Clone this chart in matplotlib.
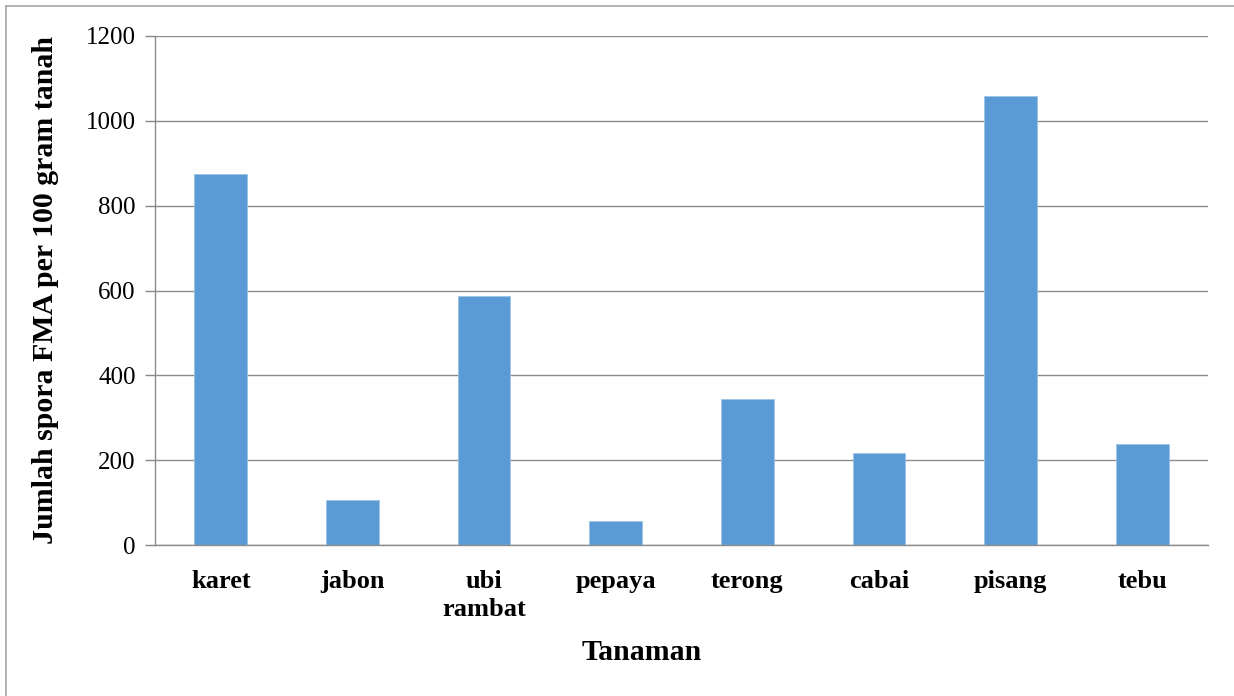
import matplotlib
matplotlib.use("Agg")
import matplotlib.pyplot as plt
from matplotlib.lines import Line2D

categories = ["karet", "jabon", "ubi\nrambat", "pepaya", "terong", "cabai", "pisang", "tebu"]
values = [875, 106, 586, 56, 344, 218, 1058, 238]
yticks = [0, 200, 400, 600, 800, 1000, 1200]

plt.rcParams['font.family'] = ['Liberation Serif', 'DejaVu Serif']

fig = plt.figure(figsize=(12.34, 6.96), dpi=100)
ax = fig.add_axes([155/1234, 1 - 545/696, (1208-155)/1234, (545-36)/696])

x = range(len(categories))
ax.bar(x, values, width=0.4, color="#5b9bd5", edgecolor="#9dc3e6", linewidth=0.6, zorder=3)
ax.set_xlim(-0.5, len(categories) - 0.5)
ax.set_ylim(0, 1200)
ax.set_yticks(yticks)
ax.set_yticklabels([str(v) for v in yticks], fontsize=18)
ax.set_xticks(list(x))
ax.set_xticklabels(categories, fontsize=19, fontweight="bold", linespacing=1.25, va="top")
ax.tick_params(axis="x", length=0, pad=18)
ax.tick_params(axis="y", length=7, color="#888888", width=1, pad=7, direction="out")
ax.grid(axis="y", color="#8c8c8c", linewidth=1, zorder=0)
for s in ["top", "right", "bottom"]:
    ax.spines[s].set_visible(False)
ax.spines["left"].set_color("#8c8c8c")
ax.spines["left"].set_linewidth(1)
ax.axhline(0, color="#8c8c8c", linewidth=1, zorder=4, clip_on=False)

ax.set_ylabel("Jumlah spora FMA per 100 gram tanah", fontsize=21.5, fontweight="bold", labelpad=19)
ax.set_xlabel("Tanaman", fontsize=21.5, fontweight="bold", labelpad=11)
ax.xaxis.set_label_coords(0.4625, -0.185)

fig.lines.append(Line2D([5.5/1234, 5.5/1234], [0, 1 - 6/696], transform=fig.transFigure,
                        color="#a6a6a6", linewidth=1.2))
fig.lines.append(Line2D([5.5/1234, 1], [1 - 6/696, 1 - 6/696], transform=fig.transFigure,
                        color="#a6a6a6", linewidth=1.2))

fig.savefig("out.png", dpi=100)
